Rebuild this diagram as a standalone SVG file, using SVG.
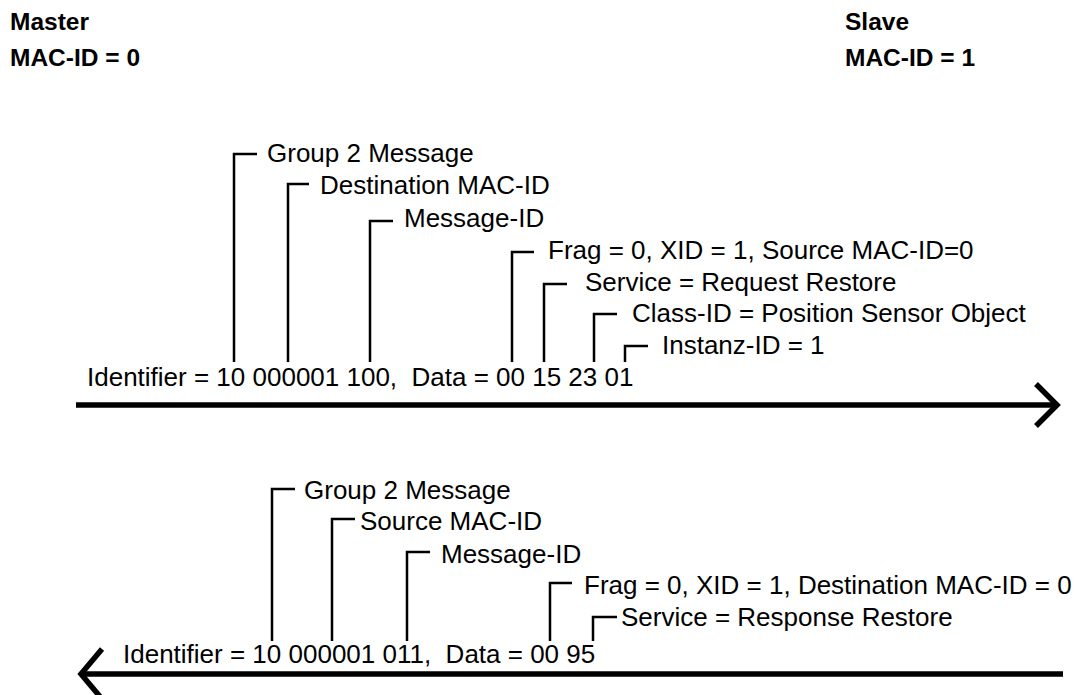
<svg xmlns="http://www.w3.org/2000/svg" width="1081" height="695" viewBox="0 0 1081 695">
  <style>
    text { font-family: "Liberation Sans", Arial, sans-serif; fill: #000; white-space: pre; }
    .hdr { font-size: 24.5px; font-weight: bold; }
    .lbl { font-size: 26px; }
    .brk { fill: none; stroke: #000; stroke-width: 2.5; }
    .bus { fill: none; stroke: #000; stroke-width: 5.5; }
    .head { fill: none; stroke: #000; stroke-width: 5.5; stroke-linejoin: miter; }
  </style>

  <!-- station headers -->
  <g id="master">
    <text class="hdr" x="10" y="30">Master</text>
    <text class="hdr" x="10" y="66">MAC-ID = 0</text>
  </g>
  <g id="slave">
    <text class="hdr" x="845" y="30">Slave</text>
    <text class="hdr" x="845" y="66">MAC-ID = 1</text>
  </g>

  <!-- request frame: master to slave -->
  <g id="request">
    <text class="lbl" x="87" y="386" xml:space="preserve">Identifier = 10 000001 100,  Data = 00 15 23 01</text>
    <path class="brk" d="M234 362V154H257"/>
    <text class="lbl" x="267" y="162">Group 2 Message</text>
    <path class="brk" d="M288 362V184H309"/>
    <text class="lbl" x="320" y="194">Destination MAC-ID</text>
    <path class="brk" d="M370 362V221H393"/>
    <text class="lbl" x="404" y="227">Message-ID</text>
    <path class="brk" d="M512 362V252H534"/>
    <text class="lbl" x="548" y="259">Frag = 0, XID = 1, Source MAC-ID=0</text>
    <path class="brk" d="M544 362V284H567"/>
    <text class="lbl" x="585" y="291">Service = Request Restore</text>
    <path class="brk" d="M594 362V314H617"/>
    <text class="lbl" x="632" y="322">Class-ID = Position Sensor Object</text>
    <path class="brk" d="M625 362V346H648"/>
    <text class="lbl" x="662" y="354">Instanz-ID = 1</text>
  </g>

  <!-- response frame: slave to master -->
  <g id="response">
    <text class="lbl" x="123" y="663" xml:space="preserve">Identifier = 10 000001 011,  Data = 00 95</text>
    <path class="brk" d="M272 641V489H295"/>
    <text class="lbl" x="304" y="499">Group 2 Message</text>
    <path class="brk" d="M332 641V519H355"/>
    <text class="lbl" x="360" y="530">Source MAC-ID</text>
    <path class="brk" d="M407 641V552H430"/>
    <text class="lbl" x="441" y="563">Message-ID</text>
    <path class="brk" d="M550 641V583H572"/>
    <text class="lbl" x="584" y="594">Frag = 0, XID = 1, Destination MAC-ID = 0</text>
    <path class="brk" d="M593 641V617H617"/>
    <text class="lbl" x="621" y="626">Service = Response Restore</text>
  </g>

  <!-- bus connectors -->
  <g id="connectors">
    <path class="bus" d="M76 405H1056"/>
    <path class="head" d="M1036 384L1057 405L1036 426"/>
    <path class="bus" d="M1063 674H82"/>
    <path class="head" d="M102 649L81 674L102 699"/>
  </g>
</svg>
